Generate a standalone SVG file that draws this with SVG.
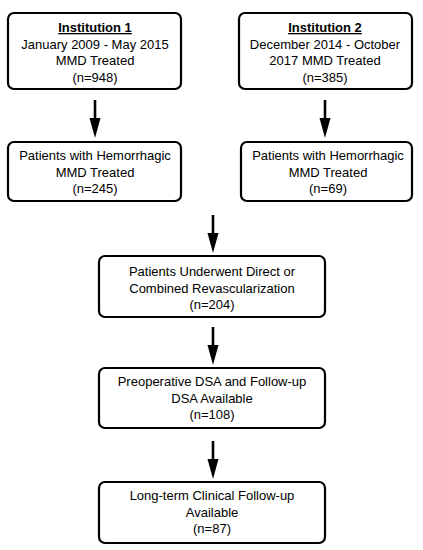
<svg xmlns="http://www.w3.org/2000/svg" width="423" height="550" viewBox="0 0 423 550">
<style>
.box{fill:#fff;stroke:#000;stroke-width:2.2}
text{font-family:"Liberation Sans",Arial,sans-serif;font-size:13px;fill:#000;text-anchor:middle}
.u{font-weight:bold;text-decoration:underline}
.shaft{stroke:#000;stroke-width:2.6;fill:none}
</style>
<defs>
<polygon id="head" points="-5.5,0 5.5,0 0,20" fill="#000"/>
</defs>
<rect width="423" height="550" fill="#fff"/>
<g id="connectors">
<line class="shaft" x1="95" y1="100" x2="95" y2="120"/><use href="#head" x="95" y="118"/>
<line class="shaft" x1="325" y1="100" x2="325" y2="120"/><use href="#head" x="325" y="118"/>
<line class="shaft" x1="213" y1="215" x2="213" y2="235"/><use href="#head" x="213" y="233"/>
<line class="shaft" x1="213" y1="327" x2="213" y2="347"/><use href="#head" x="213" y="345"/>
<line class="shaft" x1="213" y1="441" x2="213" y2="461"/><use href="#head" x="213" y="459"/>
</g>
<g id="inst1">
<rect class="box" x="8" y="13" width="173" height="76" rx="6"/>
<text x="95" y="32" class="u">Institution 1</text>
<text x="95" y="48.5">January 2009 - May 2015</text>
<text x="95" y="65">MMD Treated</text>
<text x="95" y="82">(n=948)</text>
</g>
<g id="inst2">
<rect class="box" x="239" y="13" width="173" height="76" rx="6"/>
<text x="325" y="32" class="u">Institution 2</text>
<text x="325" y="48.5">December 2014 - October</text>
<text x="325" y="65">2017 MMD Treated</text>
<text x="325" y="82">(n=385)</text>
</g>
<g id="hem1">
<rect class="box" x="8" y="142" width="173" height="59" rx="6"/>
<text x="95" y="159.5">Patients with Hemorrhagic</text>
<text x="95" y="176.5">MMD Treated</text>
<text x="95" y="193">(n=245)</text>
</g>
<g id="hem2">
<rect class="box" x="241" y="142" width="171" height="59" rx="6"/>
<text x="328" y="159.5">Patients with Hemorrhagic</text>
<text x="328" y="176.5">MMD Treated</text>
<text x="328" y="193">(n=69)</text>
</g>
<g id="revasc">
<rect class="box" x="99" y="256" width="226" height="61" rx="6"/>
<text x="212" y="276">Patients Underwent Direct or</text>
<text x="212" y="293">Combined Revascularization</text>
<text x="212" y="309">(n=204)</text>
</g>
<g id="dsa">
<rect class="box" x="99" y="368" width="226" height="60" rx="6"/>
<text x="212" y="386">Preoperative DSA and Follow-up</text>
<text x="212" y="402.5">DSA Available</text>
<text x="212" y="418.5">(n=108)</text>
</g>
<g id="followup">
<rect class="box" x="99" y="482" width="226" height="61" rx="6"/>
<text x="212" y="500">Long-term Clinical Follow-up</text>
<text x="212" y="517">Available</text>
<text x="212" y="533">(n=87)</text>
</g>
</svg>
